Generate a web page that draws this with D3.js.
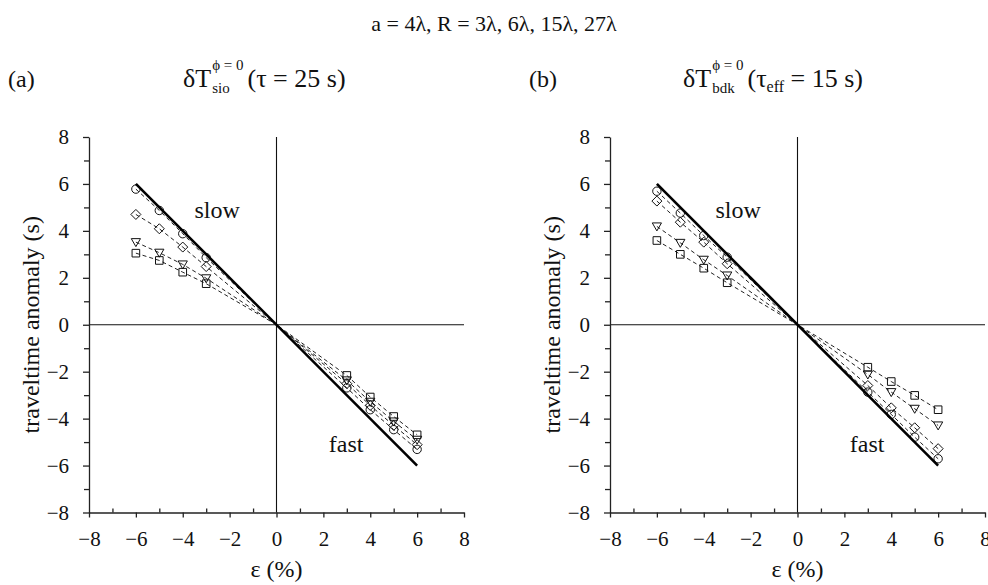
<!DOCTYPE html>
<html>
<head>
<meta charset="utf-8">
<script src="https://cdn.jsdelivr.net/npm/d3@7"></script>
<title>traveltime anomaly</title>
<style>
  body { margin: 0; background: #fff; }
  text { font-family: "Liberation Serif", "Times New Roman", serif; fill: #111; }
</style>
</head>
<body>
<script>

// strain values (%) where the anomalies were computed
var strain = [-6, -5, -4, -3, 0, 3, 4, 5, 6];

// panel (a): sio, tau = 25 s   (R = 27, 15, 6, 3 lambda)
var sioCircle  = [5.78, 4.87, 3.88, 2.86, 0, -2.69, -3.62, -4.47, -5.31];
var sioDiamond = [4.70, 4.09, 3.31, 2.48, 0, -2.51, -3.44, -4.29, -5.11];
var sioTri     = [3.52, 3.07, 2.57, 1.98, 0, -2.37, -3.28, -4.12, -4.90];
var sioSquare  = [3.05, 2.74, 2.24, 1.75, 0, -2.16, -3.08, -3.91, -4.69];

// panel (b): bdk, tau_eff = 15 s
var bdkCircle  = [5.69, 4.76, 3.80, 2.88, 0, -2.87, -3.82, -4.79, -5.71];
var bdkDiamond = [5.27, 4.37, 3.52, 2.60, 0, -2.59, -3.54, -4.39, -5.28];
var bdkTri     = [4.19, 3.49, 2.77, 2.10, 0, -2.12, -2.87, -3.58, -4.29];
var bdkSquare  = [3.59, 3.00, 2.41, 1.79, 0, -1.81, -2.42, -3.01, -3.62];

// ray theory line
var rayX = [-6, 6];
var rayY = [6, -6];

var majorTicks = [-8, -6, -4, -2, 0, 2, 4, 6, 8];
var minorTicks = [-7, -5, -3, -1, 1, 3, 5, 7];

var width = 988,
    height = 585;

var svg = d3.select("body")
  .append("svg")
  .attr("width", width)
  .attr("height", height);

svg.append("text")
  .attr("x", 494).attr("y", 31)
  .attr("text-anchor", "middle")
  .style("font-size", "22px")
  .text("a = 4λ, R = 3λ, 6λ, 15λ, 27λ");

var symbols = {
  circle: function(g) { g.append("circle").attr("r", 4.2); },
  diamond: function(g) { g.append("path").attr("d", "M0,-5L5,0L0,5L-5,0Z"); },
  tri: function(g) { g.append("path").attr("d", "M-4.6,-3.5L4.6,-3.5L0,4.5Z"); },
  square: function(g) { g.append("path").attr("d", "M-3.8,-3.8H3.8V3.8H-3.8Z"); }
};

function panel(x0, series, label, head) {
  var x = d3.scaleLinear().domain([-8, 8]).range([x0, x0 + 375]);
  var y = d3.scaleLinear().domain([-8, 8]).range([512.5, 137]);
  var g = svg.append("g");

  // crosshair through the origin
  g.append("line")
    .attr("x1", x(0)).attr("x2", x(0)).attr("y1", y(8)).attr("y2", y(-8))
    .attr("stroke", "#111").attr("stroke-width", 1.1);
  g.append("line")
    .attr("x1", x(-8)).attr("x2", x(8)).attr("y1", y(0)).attr("y2", y(0))
    .attr("stroke", "#111").attr("stroke-width", 1.1);

  var line = d3.line()
    .x(function(d) { return x(d[0]); })
    .y(function(d) { return y(d[1]); });

  series.forEach(function(s) {
    var pts = strain.map(function(v, i) { return [v, s.values[i]]; });
    g.append("path")
      .attr("d", line(pts))
      .attr("fill", "none")
      .attr("stroke", "#222")
      .attr("stroke-width", 1)
      .attr("stroke-dasharray", "4,3");
    pts.filter(function(p) { return p[0] !== 0; }).forEach(function(p) {
      var m = g.append("g")
        .attr("transform", "translate(" + x(p[0]) + "," + y(p[1]) + ")")
        .attr("fill", "none")
        .attr("stroke", "#111")
        .attr("stroke-width", 1);
      symbols[s.shape](m);
    });
  });

  g.append("path")
    .attr("d", line(rayX.map(function(v, i) { return [v, rayY[i]]; })))
    .attr("stroke", "#000")
    .attr("stroke-width", 2.6)
    .attr("fill", "none");

  // axes
  g.append("g")
    .attr("transform", "translate(" + x0 + ",0)")
    .call(d3.axisLeft(y).tickValues(majorTicks).tickSize(6).tickSizeOuter(0)
      .tickPadding(14).tickFormat(d3.format("d")));
  g.append("g")
    .attr("transform", "translate(" + x0 + ",0)")
    .call(d3.axisLeft(y).tickValues(minorTicks).tickSize(5).tickFormat(""))
    .select(".domain").remove();

  g.append("g")
    .attr("transform", "translate(0," + y(-8) + ")")
    .call(d3.axisBottom(x).tickValues(majorTicks).tickSize(5).tickSizeOuter(0)
      .tickPadding(14).tickFormat(d3.format("d")));
  g.append("g")
    .attr("transform", "translate(0," + y(-8) + ")")
    .call(d3.axisBottom(x).tickValues(minorTicks).tickSize(-4).tickFormat(""))
    .select(".domain").remove();

  g.selectAll(".tick text")
    .style("font-size", "21px")
    .style("font-family", "Liberation Serif")
    .attr("fill", "#111");
  g.selectAll(".domain, .tick line")
    .attr("stroke", "#222")
    .attr("stroke-width", 1.3);

  g.append("text")
    .attr("transform", "translate(" + (x0 - 50) + "," + y(0) + ") rotate(-90)")
    .attr("text-anchor", "middle")
    .style("font-size", "24px")
    .text("traveltime anomaly (s)");

  g.append("text")
    .attr("x", x(0)).attr("y", 577)
    .attr("text-anchor", "middle")
    .style("font-size", "24px")
    .text("ε (%)");

  g.append("text")
    .attr("x", x(-3.5)).attr("y", y(4.53))
    .style("font-size", "24px")
    .text("slow");
  g.append("text")
    .attr("x", x(2.23)).attr("y", y(-5.43))
    .style("font-size", "24px")
    .text("fast");

  // panel label and heading
  svg.append("text")
    .attr("x", x0 - 81).attr("y", 87)
    .style("font-size", "24px")
    .text(label);

  var dT = svg.append("text")
    .attr("x", head.x).attr("y", 87)
    .style("font-size", "26px")
    .text("δT");
  var after = head.x + dT.node().getComputedTextLength() + 1;
  var sup = svg.append("text")
    .attr("x", after).attr("y", 70)
    .style("font-size", "15px")
    .text("ϕ = 0");
  svg.append("text")
    .attr("x", after).attr("y", 93)
    .style("font-size", "15px")
    .text(head.sub);
  var t = svg.append("text")
    .attr("x", after + sup.node().getComputedTextLength() + 4).attr("y", 87)
    .style("font-size", "26px");
  t.append("tspan").text("(τ");
  if (head.tsub) {
    t.append("tspan").attr("dy", 5).style("font-size", "16px").text(head.tsub);
    t.append("tspan").attr("dy", -5).text(" = " + head.tau + " s)");
  } else {
    t.append("tspan").text(" = " + head.tau + " s)");
  }
}

panel(89, [
  { shape: "circle", values: sioCircle },
  { shape: "diamond", values: sioDiamond },
  { shape: "tri", values: sioTri },
  { shape: "square", values: sioSquare }
], "(a)", { x: 183, sub: "sio", tau: 25 });

panel(610, [
  { shape: "circle", values: bdkCircle },
  { shape: "diamond", values: bdkDiamond },
  { shape: "tri", values: bdkTri },
  { shape: "square", values: bdkSquare }
], "(b)", { x: 683, sub: "bdk", tsub: "eff", tau: 15 });

</script>
</body>
</html>
